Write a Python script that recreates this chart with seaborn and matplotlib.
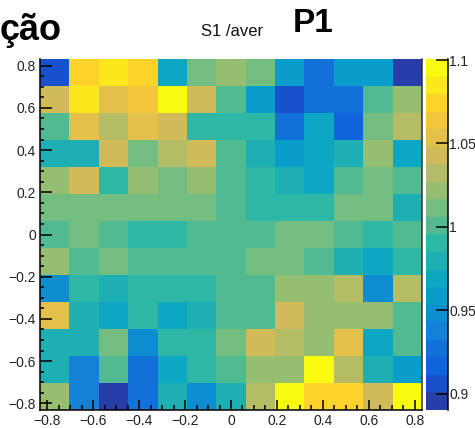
import numpy as np
import pandas as pd
import seaborn as sns
import matplotlib
matplotlib.use("Agg")
import matplotlib.pyplot as plt
from matplotlib.colors import ListedColormap, LinearSegmentedColormap

# ---------------- data ----------------
axis_min, axis_max = -0.832, 0.832        # histogram range on both axes
n_bins = 13
z_min, z_max = 0.8904, 1.1006              # colour scale range
n_levels = 20

# cell values, rows from top (y = +0.83) to bottom (y = -0.83), columns left to right
row_00 = [0.906, 1.074, 1.085, 1.074, 0.969, 1.011, 1.022, 1.011, 0.959, 0.927, 0.959, 0.959, 0.891]
row_01 = [1.043, 1.085, 1.053, 1.064, 1.100, 1.043, 1.001, 0.959, 0.906, 0.927, 0.927, 1.001, 1.022]
row_02 = [1.001, 1.053, 1.032, 1.053, 1.043, 0.990, 0.990, 0.990, 0.927, 0.969, 0.917, 1.011, 1.032]
row_03 = [0.980, 0.980, 1.043, 1.011, 1.032, 1.043, 1.001, 0.980, 0.959, 0.969, 0.980, 1.022, 0.969]
row_04 = [1.022, 1.043, 0.990, 1.022, 1.011, 1.022, 1.001, 0.990, 0.980, 0.969, 1.001, 1.011, 1.001]
row_05 = [1.011, 1.011, 1.011, 1.011, 1.011, 1.011, 1.001, 0.990, 0.990, 0.990, 1.011, 1.011, 0.980]
row_06 = [1.001, 1.011, 1.001, 0.990, 0.990, 1.001, 1.001, 1.001, 1.011, 1.011, 1.001, 0.990, 1.001]
row_07 = [1.022, 1.001, 1.011, 1.001, 1.001, 1.001, 1.001, 1.011, 1.011, 1.001, 0.980, 0.969, 0.990]
row_08 = [0.948, 0.990, 0.980, 0.990, 0.990, 0.990, 1.001, 1.001, 1.022, 1.022, 1.032, 0.948, 1.032]
row_09 = [1.053, 0.980, 0.969, 0.990, 0.969, 0.980, 1.001, 1.001, 1.043, 1.022, 1.022, 1.022, 1.001]
row_10 = [0.980, 0.980, 1.011, 0.948, 0.990, 0.990, 1.011, 1.043, 1.032, 1.022, 1.053, 0.969, 1.001]
row_11 = [0.980, 0.938, 1.001, 0.927, 0.969, 0.990, 1.001, 1.022, 1.022, 1.095, 1.032, 0.980, 0.959]
row_12 = [1.022, 0.938, 0.896, 0.927, 0.980, 0.948, 0.980, 1.032, 1.095, 1.074, 1.074, 1.043, 1.095]
values = [row_00, row_01, row_02, row_03, row_04, row_05, row_06,
          row_07, row_08, row_09, row_10, row_11, row_12]

major_ticks = [-0.8, -0.6, -0.4, -0.2, 0.0, 0.2, 0.4, 0.6, 0.8]
major_labels = ["\u22120.8", "\u22120.6", "\u22120.4", "\u22120.2", "0", "0.2", "0.4", "0.6", "0.8"]
minor_ticks = [-0.8, -0.75, -0.7, -0.65, -0.6, -0.55, -0.5, -0.45, -0.4, -0.35, -0.3, -0.25,
               -0.2, -0.15, -0.1, -0.05, 0.0, 0.05, 0.1, 0.15, 0.2, 0.25, 0.3, 0.35, 0.4,
               0.45, 0.5, 0.55, 0.6, 0.65, 0.7, 0.75, 0.8]
cbar_ticks = [0.9, 0.95, 1.0, 1.05, 1.1]
cbar_labels = ["0.9", "0.95", "1", "1.05", "1.1"]

title_text = "S1 /aver"
big_label = "P1"
corner_text = "ção"

# ---------------- palette (ROOT kBird, 20 contour levels) ----------------
bird_stops = [0.0, 0.125, 0.25, 0.375, 0.5, 0.625, 0.75, 0.875, 1.0]
bird_r = [0.2082, 0.0592, 0.0780, 0.0232, 0.1802, 0.5301, 0.8186, 0.9956, 0.9764]
bird_g = [0.1664, 0.3599, 0.5041, 0.6419, 0.7178, 0.7492, 0.7328, 0.7862, 0.9832]
bird_b = [0.5293, 0.8684, 0.8385, 0.7914, 0.6425, 0.4662, 0.3499, 0.1968, 0.0539]
bird = LinearSegmentedColormap.from_list(
    "bird", list(zip(bird_stops, zip(bird_r, bird_g, bird_b))), N=255)
level_colors = [bird(int((k + 0.99) * 255 / n_levels) / 254.0) for k in range(n_levels)]
cmap = ListedColormap(level_colors)

# ---------------- figure ----------------
plt.rcParams["font.family"] = ["Liberation Sans", "DejaVu Sans"]
W, H = 475, 428
fig = plt.figure(figsize=(W / 100, H / 100), dpi=100)
ax = fig.add_axes([40 / W, 18 / H, 382 / W, 351 / H])
cax = fig.add_axes([426 / W, 18 / H, 22 / W, 351 / H])

bin_w = (axis_max - axis_min) / n_bins
df = pd.DataFrame(values)
sns.heatmap(df, ax=ax, cbar_ax=cax, cmap=cmap, vmin=z_min, vmax=z_max,
            xticklabels=False, yticklabels=False, linewidths=0)

def xpos(v):
    return (v - axis_min) / bin_w

def ypos(v):
    return (axis_max - v) / bin_w

ax.set_xticks([xpos(v) for v in major_ticks])
ax.set_xticklabels(major_labels)
ax.set_xticks([xpos(v) for v in minor_ticks], minor=True)
ax.set_yticks([ypos(v) for v in major_ticks])
ax.set_yticklabels(major_labels)
ax.set_yticks([ypos(v) for v in minor_ticks], minor=True)

ax.tick_params(axis="x", which="major", direction="in", length=7, width=1.1,
               labelsize=10, pad=3, colors="black", labelcolor="#222222")
ax.tick_params(axis="x", which="minor", direction="in", length=3.6, width=1.1, colors="black")
ax.tick_params(axis="y", which="major", direction="in", length=8.3, width=1.1,
               labelsize=10, pad=3, colors="black", labelcolor="#222222", labelrotation=0)
ax.tick_params(axis="y", which="minor", direction="in", length=3.2, width=1.1, colors="black")

for side in ["left", "bottom", "right"]:
    ax.spines[side].set_visible(True)
    ax.spines[side].set_color("black")
    ax.spines[side].set_linewidth(1.1)
ax.spines["right"].set_color("#333333")
ax.spines["top"].set_visible(False)
ax.set_xlabel("")
ax.set_ylabel("")

# colour bar axis (ROOT palette axis)
cax.set_yticks(cbar_ticks)
cax.set_yticklabels(cbar_labels)
cax.minorticks_off()
cax.tick_params(axis="y", direction="in", length=9, width=1.1, right=True, left=False,
                labelright=True, labelleft=False, labelsize=10, pad=1,
                colors="black", labelcolor="#222222")
cax.plot([1, 1], [0, 1], transform=cax.transAxes, color="black", lw=1.1, clip_on=False)

# texts
fig.text(232 / W, 1 - 31 / H, title_text, ha="center", va="center", fontsize=12, color="#111111")
fig.text(313 / W, 1 - 24 / H, big_label, ha="center", va="center", fontsize=24,
         fontweight="bold", color="black")
fig.text(0.0, 1 - 40 / H, corner_text, ha="left", va="baseline", fontsize=26,
         fontweight="bold", color="black")

fig.savefig("out.png", dpi=100)
